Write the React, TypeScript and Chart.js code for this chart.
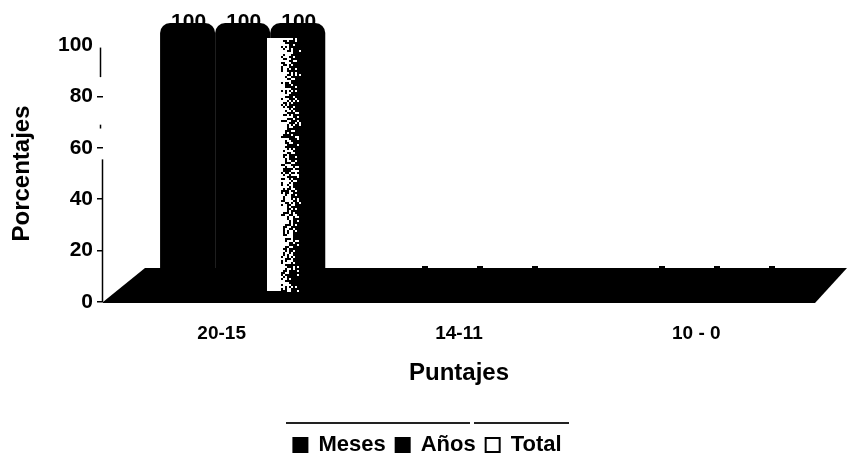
import React, { useEffect, useRef } from "react";
import { Chart, registerables } from "chart.js";

Chart.register(...registerables);

const categories = ["20-15", "14-11", "10 - 0"];
const meses = [100, 0, 0];
const anos = [100, 0, 0];
const total = [100, 0, 0];
const yTicks = [0, 20, 40, 60, 80, 100];
// the axis line of the scanned original is broken: visible stretches, in axis values
const axisStretches = [
  [99, 87.5],
  [69, 67.5],
  [55.5, 0],
];
const FONT = "'Liberation Sans', Arial, sans-serif";

// pseudo-3D depth of the original chart
const SHIFT_X = 21;
const SHIFT_Y = -22;
const FLOOR_X = 42;
const FLOOR_Y = -34;
const LEGEND_SHIFT = 20;

function speckle(i: number, j: number) {
  const v = Math.sin(i * 12.9898 + j * 78.233) * 43758.5453;
  return v - Math.floor(v);
}

const depthPlugin = {
  id: "depth",
  beforeInit(chart: any) {
    chart.ctx.letterSpacing = "1px";
  },
  afterLayout(chart: any) {
    chart.legend.left += LEGEND_SHIFT;
    chart.legend.right += LEGEND_SHIFT;
  },
  beforeDatasetsDraw(chart: any) {
    const { ctx, scales } = chart;
    const y0 = scales.y.getPixelForValue(0);
    const l = scales.x.left;
    const r = scales.x.right;
    ctx.save();
    ctx.fillStyle = "#000";
    ctx.beginPath();
    ctx.moveTo(l, y0);
    ctx.lineTo(l + FLOOR_X, y0 + FLOOR_Y);
    ctx.lineTo(r + FLOOR_X - 10, y0 + FLOOR_Y);
    ctx.lineTo(r, y0 + 1);
    ctx.lineTo(l, y0 + 1);
    ctx.closePath();
    ctx.fill();
    // broken y axis line
    ctx.strokeStyle = "#000";
    ctx.lineWidth = 1.5;
    const ax = scales.y.right;
    axisStretches.forEach(([a, b]) => {
      const lean = a > 60 ? -2 : 0;
      ctx.beginPath();
      ctx.moveTo(ax + lean - 0.5, scales.y.getPixelForValue(a));
      ctx.lineTo(ax + lean - 0.5, scales.y.getPixelForValue(b));
      ctx.stroke();
    });
    ctx.restore();
  },
  beforeDatasetDraw(chart: any) {
    chart.ctx.save();
    chart.ctx.translate(SHIFT_X, SHIFT_Y);
  },
  afterDatasetDraw(chart: any) {
    chart.ctx.restore();
  },
  afterDatasetsDraw(chart: any) {
    const { ctx, scales } = chart;
    const y0 = scales.y.getPixelForValue(0);
    ctx.save();
    chart.data.datasets.forEach((ds: any, di: number) => {
      const meta = chart.getDatasetMeta(di);
      meta.data.forEach((el: any, i: number) => {
        const v = ds.data[i];
        const cx = el.x + SHIFT_X;
        if (v === 0) {
          ctx.fillStyle = "#000";
          ctx.fillRect(Math.round(cx - 3), y0 + FLOOR_Y - 2, 6, 2);
          return;
        }
        if (di === 2) {
          const left = Math.round(cx - el.width / 2 - 3);
          const top = Math.round(el.y + SHIFT_Y + 15);
          const bottom = Math.round(y0 - 11);
          ctx.fillStyle = "#fff";
          ctx.fillRect(left, top, 14, bottom - top);
          for (let px = 0; px < 20; px += 2) {
            for (let py = top; py < bottom; py += 2) {
              const keep = 0.8 - px / 24;
              if (speckle(px + 3, py) < keep) ctx.fillRect(left + 14 + px, py, 2, 2);
            }
          }
        }
      });
    });
    ctx.fillStyle = "#000";
    ctx.font = `bold 21px ${FONT}`;
    ctx.textAlign = "center";
    ctx.textBaseline = "alphabetic";
    chart.data.datasets.forEach((ds: any, di: number) => {
      chart.getDatasetMeta(di).data.forEach((el: any, i: number) => {
        if (ds.data[i] > 0) {
          ctx.fillText(String(ds.data[i]), el.x + SHIFT_X + 1, el.y + SHIFT_Y + 5);
        }
      });
    });
    ctx.restore();
  },
  afterDraw(chart: any) {
    const { ctx, legend } = chart;
    if (!legend) return;
    ctx.save();
    ctx.strokeStyle = "#222";
    ctx.lineWidth = 2;
    const y = 423;
    const c = legend.left + legend.width / 2 - 4;
    ctx.beginPath();
    ctx.moveTo(c - 137.5, y);
    ctx.lineTo(c + 46.5, y);
    ctx.moveTo(c + 50.5, y);
    ctx.lineTo(c + 145.5, y);
    ctx.stroke();
    ctx.restore();
  },
};

export default function App() {
  const ref = useRef<HTMLCanvasElement>(null);
  useEffect(() => {
    if (!ref.current) return;
    const shared = {
      backgroundColor: "#000",
      borderRadius: { topLeft: 10, topRight: 10 },
      borderSkipped: "bottom",
      categoryPercentage: 0.696,
      barPercentage: 1,
      clip: false,
    };
    const chart = new Chart(ref.current, {
      type: "bar",
      data: {
        labels: categories,
        datasets: [
          { label: "Meses", data: meses, ...shared },
          { label: "Años", data: anos, ...shared },
          { label: "Total", data: total, ...shared },
        ],
      } as any,
      options: {
        responsive: false,
        animation: false,
        layout: { padding: { left: 0, right: 32, top: 45, bottom: -8 } },
        scales: {
          x: {
            afterFit: (s: any) => {
              s.height = 122;
            },
            grid: { display: false },
            border: { display: false },
            ticks: { color: "#000", font: { family: FONT, size: 19, weight: "bold" }, padding: 12, maxRotation: 0 },
            title: {
              display: true,
              text: "Puntajes",
              color: "#000",
              font: { family: FONT, size: 24, weight: "bold" },
              padding: { top: 10, bottom: 36 },
            },
          },
          y: {
            min: 0,
            max: 100,
            afterFit: (s: any) => {
              s.width = 103;
            },
            afterBuildTicks: (s: any) => {
              s.ticks = yTicks.map((value) => ({ value }));
            },
            grid: {
              drawOnChartArea: false,
              color: (c: any) => (c.tick && c.tick.value === 100 ? "rgba(0,0,0,0)" : "#000"),
              lineWidth: 1.5,
              tickLength: 6,
            },
            border: { display: false },
            ticks: { color: "#000", font: { family: FONT, size: 21, weight: "bold" }, padding: 4 },
            title: {
              display: true,
              text: "Porcentajes",
              color: "#000",
              font: { family: FONT, size: 24, weight: "bold" },
              padding: { top: 8, bottom: 0 },
            },
          },
        },
        plugins: {
          tooltip: { enabled: false },
          legend: {
            position: "bottom",
            labels: {
              color: "#000",
              boxWidth: 14,
              boxHeight: 14,
              padding: 10,
              font: { family: FONT, size: 22, weight: "bold" },
              generateLabels: (c: any) =>
                c.data.datasets.map((d: any, i: number) => ({
                  text: d.label,
                  fillStyle: i === 2 ? "#fff" : "#000",
                  strokeStyle: "#000",
                  lineWidth: 2,
                  fontColor: "#000",
                  datasetIndex: i,
                })),
            },
          },
        },
      } as any,
      plugins: [depthPlugin],
    });
    return () => chart.destroy();
  }, []);
  return (
    <canvas
      ref={ref}
      width={847}
      height={458}
      style={{ position: "absolute", left: 0, top: 0, display: "block" }}
    />
  );
}
